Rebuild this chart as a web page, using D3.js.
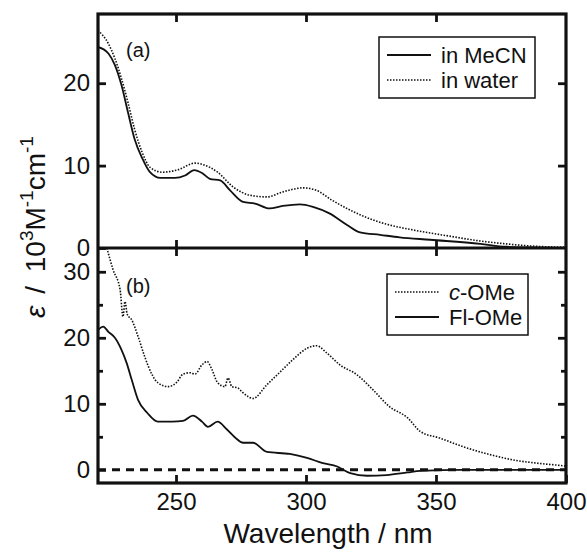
<!DOCTYPE html>
<html>
<head>
<meta charset="utf-8">
<script src="https://cdn.jsdelivr.net/npm/d3@7"></script>
<style>
  body { margin: 0; background: #fff; }
  svg text { font-family: "Liberation Sans", Arial, sans-serif; fill: #111; }
</style>
</head>
<body>
<svg id="canvas" width="587" height="555"></svg>
<script>
// panel (a): absorption of the two solutions
let mecnWl  = [220, 224, 226.5, 229, 231.5, 234, 237, 240, 244, 249.6, 253.5, 257, 260, 263, 267, 270.8, 275.8, 280.4, 286, 291, 297.7, 302.7, 309, 315.8, 320.8, 328.5, 336, 347.7, 367, 377, 390, 400]
let mecnEps = [24.4, 23.6, 22.2, 19.8, 16.5, 13.3, 10.9, 9.2, 8.5, 8.5, 8.8, 9.45, 9.1, 8.4, 8.2, 7.0, 5.6, 5.4, 4.8, 5.1, 5.3, 5.0, 4.2, 2.8, 1.9, 1.6, 1.3, 1.0, 0.5, 0.15, 0.05, 0]

let waterWl  = [220, 224, 226.5, 229, 231.5, 234, 237, 240, 244.6, 250.8, 257.3, 261, 266, 272, 278.5, 285, 291, 299, 304, 310, 317, 325.8, 332, 341, 354, 367, 377, 386, 400]
let waterEps = [26.4, 24.8, 23.0, 20.6, 17.7, 14.5, 11.6, 9.8, 9.2, 9.5, 10.3, 10.06, 9.2, 7.4, 6.4, 6.2, 6.8, 7.3, 7.0, 5.8, 4.6, 3.4, 2.8, 2.2, 1.5, 0.85, 0.5, 0.25, 0.1]

// panel (b): the two isomers
let cWl  = [223.4, 225.8, 228.5, 229.6, 230.4, 231.2, 233, 235.4, 238, 240.8, 243, 247, 250.4, 252.7, 255.4, 257.3, 260, 262, 263.8, 266, 268.8, 270, 271.5, 273.8, 275.4, 277.7, 279.6, 285, 290, 295, 300.4, 304, 308, 313, 319.6, 325.8, 332, 339, 344, 351.5, 360.4, 370.8, 381, 389, 399, 400]
let cEps = [33.6, 30.3, 27.3, 23.2, 25.5, 23.6, 22.7, 20.2, 17.1, 14.4, 13.2, 12.6, 13.3, 14.5, 14.7, 14.5, 15.9, 16.4, 15.2, 13.2, 12.6, 13.9, 12.6, 12.4, 11.8, 11.1, 10.8, 12.9, 14.8, 16.7, 18.4, 18.8, 17.7, 15.9, 14.4, 12.1, 9.6, 7.9, 5.8, 4.8, 3.5, 2.3, 1.4, 1.0, 0.6, 0.55]

let flWl  = [220, 222, 224, 226.5, 229, 231, 233, 235.4, 239, 243, 248.5, 252.7, 256.5, 260, 262.3, 266, 269.6, 272.7, 275.8, 279.6, 285, 293.8, 300.4, 306.5, 312, 317, 323.5, 331, 339, 344, 360, 380, 400]
let flEps = [21.2, 21.7, 20.9, 20.0, 18.2, 16.2, 13.6, 10.6, 8.6, 7.3, 7.3, 7.4, 8.2, 7.3, 6.5, 7.3, 6.1, 4.9, 4.1, 4.1, 2.7, 2.4, 1.8, 1.0, 0.5, -0.5, -0.9, -0.8, -0.4, -0.15, 0, 0, 0]

let xTicks = [250, 300, 350, 400]
let yTicksA = [0, 10, 20]
let yTicksB = [0, 10, 20, 30]
let yMinorB = [5, 15, 25]

let svg = d3.select('#canvas')

let left = 98, right = 566
let topA = 14, botA = 248, botB = 483

let x = d3.scaleLinear().domain([220, 400]).range([left, right])
let yA = d3.scaleLinear().domain([0, 28.4]).range([botA, topA])
let yB = d3.scaleLinear().domain([-2, 33.6]).range([botB, botA])

svg.append('clipPath').attr('id', 'clipA')
    .append('rect').attr('x', left).attr('y', topA).attr('width', right - left).attr('height', botA - topA)
svg.append('clipPath').attr('id', 'clipB')
    .append('rect').attr('x', left).attr('y', botA).attr('width', right - left).attr('height', botB - botA)

let drawLine = (wl, eps, yScale, clip, dash, width) => {
    let pts = wl.map((w, i) => [w, eps[i]])
    svg.append('path')
        .datum(pts)
        .attr('clip-path', 'url(#' + clip + ')')
        .attr('fill', 'none')
        .attr('stroke', '#111')
        .attr('stroke-width', width)
        .attr('stroke-dasharray', dash)
        .attr('d', d3.line().curve(d3.curveMonotoneX).x(d => x(d[0])).y(d => yScale(d[1])))
}

// zero reference in panel (b)
svg.append('line')
    .attr('x1', x(220)).attr('x2', x(400))
    .attr('y1', yB(0)).attr('y2', yB(0))
    .attr('stroke', '#111').attr('stroke-width', 3).attr('stroke-dasharray', '8,6')

drawLine(waterWl, waterEps, yA, 'clipA', '1.5,1.5', 1.6)
drawLine(mecnWl, mecnEps, yA, 'clipA', null, 1.8)
drawLine(cWl, cEps, yB, 'clipB', '1.5,1.5', 1.6)
drawLine(flWl, flEps, yB, 'clipB', null, 1.8)

// axes, ticks pointing inward
let noLabel = () => ''
let addAxis = (axis, tx, ty) => {
    let g = svg.append('g').attr('transform', 'translate(' + tx + ',' + ty + ')').call(axis)
    g.select('.domain').remove()
    g.selectAll('.tick line').attr('stroke', '#111').attr('stroke-width', 2.8)
    g.selectAll('.tick text').style('font-size', '24px').attr('fill', '#111')
    return g
}

let innerX = xTicks.filter(t => t < 400)
addAxis(d3.axisBottom(x).tickValues(xTicks).tickSize(-8).tickPadding(10).tickFormat(d3.format('d')), 0, botB)
addAxis(d3.axisTop(x).tickValues(innerX).tickSize(-8).tickFormat(noLabel), 0, topA)
addAxis(d3.axisTop(x).tickValues(innerX).tickSize(8).tickFormat(noLabel), 0, botA)
addAxis(d3.axisTop(x).tickValues(innerX).tickSize(-8).tickFormat(noLabel), 0, botA)

addAxis(d3.axisLeft(yA).tickValues(yTicksA).tickSize(-8).tickPadding(8).tickFormat(d3.format('d')), left, 0)
addAxis(d3.axisRight(yA).tickValues(yTicksA.slice(1)).tickSize(-8).tickFormat(noLabel), right, 0)
addAxis(d3.axisLeft(yB).tickValues(yTicksB).tickSize(-8).tickPadding(8).tickFormat(d3.format('d')), left, 0)
addAxis(d3.axisRight(yB).tickValues(yTicksB.slice(1)).tickSize(-8).tickFormat(noLabel), right, 0)
addAxis(d3.axisLeft(yB).tickValues(yMinorB).tickSize(-5).tickFormat(noLabel), left, 0)
addAxis(d3.axisRight(yB).tickValues(yMinorB).tickSize(-5).tickFormat(noLabel), right, 0)

// frame
svg.append('rect')
    .attr('x', left).attr('y', topA).attr('width', right - left).attr('height', botB - topA)
    .attr('fill', 'none').attr('stroke', '#111').attr('stroke-width', 3.2)
svg.append('line')
    .attr('x1', left).attr('x2', right).attr('y1', botA).attr('y2', botA)
    .attr('stroke', '#111').attr('stroke-width', 3.2)

// panel tags
svg.append('text').attr('x', 126).attr('y', 57).style('font-size', '20px').text('(a)')
svg.append('text').attr('x', 126).attr('y', 293).style('font-size', '20px').text('(b)')

// legends
let drawLegend = (bx, by, bw, bh, items) => {
    svg.append('rect')
        .attr('x', bx).attr('y', by).attr('width', bw).attr('height', bh)
        .attr('fill', '#fff').attr('stroke', '#111').attr('stroke-width', 1.5)
    items.forEach((it, i) => {
        let ly = by + 18 + i * 25
        svg.append('line')
            .attr('x1', bx + 8).attr('x2', bx + 52).attr('y1', ly).attr('y2', ly)
            .attr('stroke', '#111').attr('stroke-width', it.dash ? 1.6 : 1.8)
            .attr('stroke-dasharray', it.dash)
        let t = svg.append('text').attr('x', bx + 62).attr('y', ly + 8).style('font-size', '22px')
        if (it.italic) {
            t.append('tspan').style('font-style', 'italic').text(it.italic)
        }
        t.append('tspan').text(it.label)
    })
}
drawLegend(379, 37, 156, 61, [
    {label: 'in MeCN', dash: null},
    {label: 'in water', dash: '1.5,1.5'}
])
drawLegend(387, 274, 141, 61, [
    {italic: 'c', label: '-OMe', dash: '1.5,1.5'},
    {label: 'Fl-OMe', dash: null}
])

// axis titles
svg.append('text')
    .attr('x', 328).attr('y', 543)
    .attr('text-anchor', 'middle')
    .style('font-size', '28px')
    .text('Wavelength / nm')

let yt = svg.append('text')
    .attr('transform', 'translate(45,227) rotate(-90)')
    .attr('text-anchor', 'middle')
    .style('font-size', '28px')
yt.append('tspan').style('font-style', 'italic').text('ε')
yt.append('tspan').attr('dx', 4).text(' / ')
yt.append('tspan').attr('dx', 6).text('10')
yt.append('tspan').attr('dy', -12).style('font-size', '19px').text('3')
yt.append('tspan').attr('dy', 12).text('M')
yt.append('tspan').attr('dy', -12).style('font-size', '19px').text('-1')
yt.append('tspan').attr('dy', 12).text('cm')
yt.append('tspan').attr('dy', -12).style('font-size', '19px').text('-1')
</script>
</body>
</html>
